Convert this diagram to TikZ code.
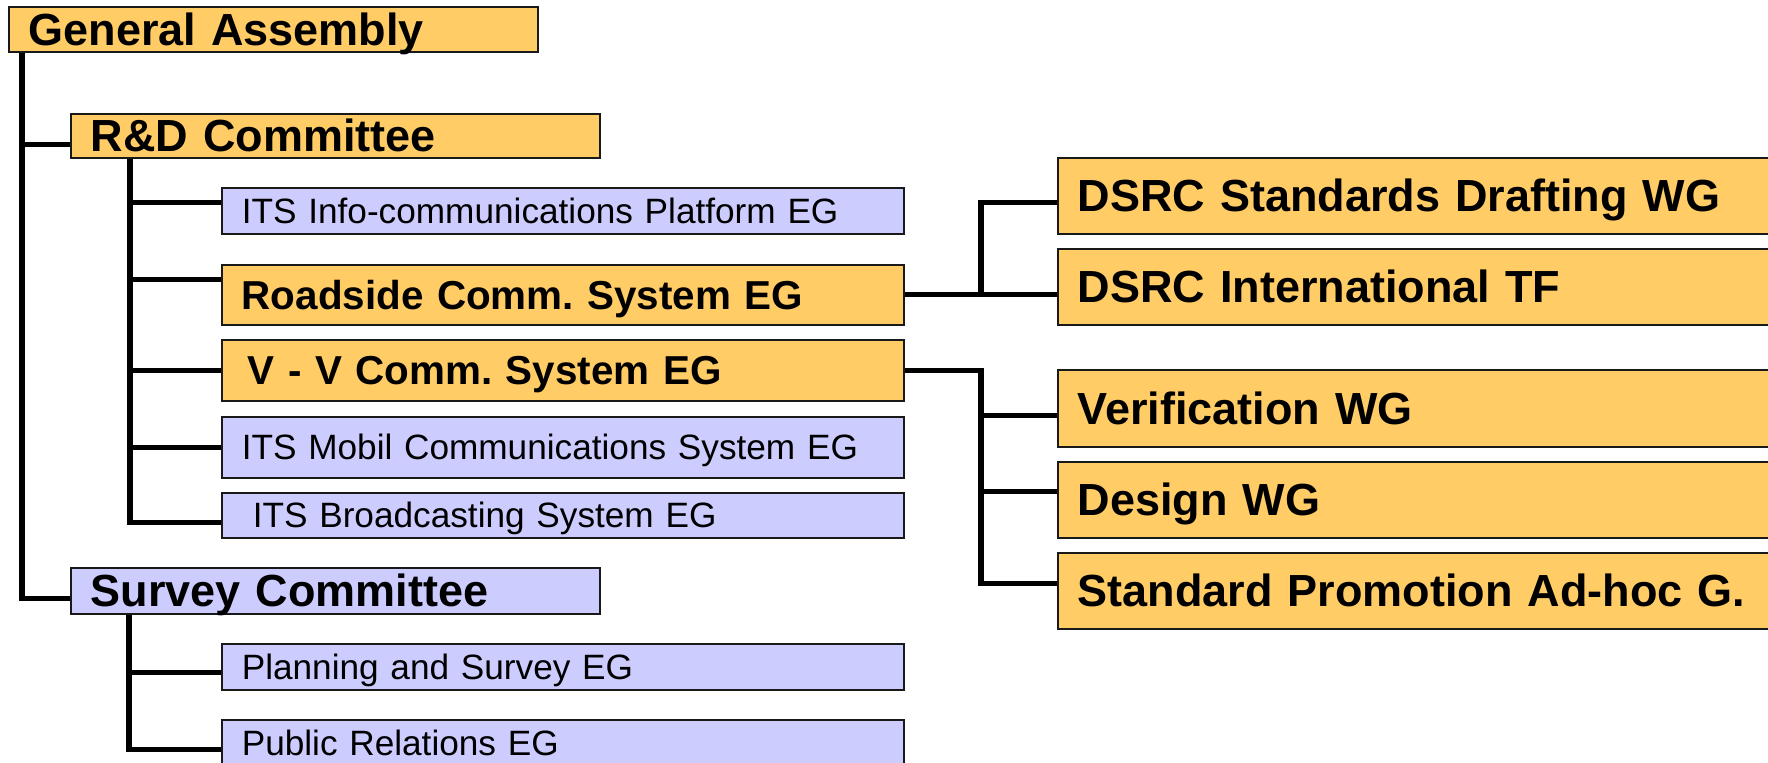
\documentclass[tikz,border=0pt]{standalone}
\usepackage{fontspec}
\setmainfont{Liberation Sans}
\usetikzlibrary{positioning, calc}
\definecolor{boxorange}{RGB}{255, 204, 102}
\definecolor{boxblue}{RGB}{204, 204, 255}
\frenchspacing
\tikzset{
  box/.style={draw=black!90, line width=0.8pt, anchor=north west, inner xsep=10pt, inner ysep=0pt, align=left, text depth=0pt},
  comm/.style={box, text width=244.7pt, font=\bfseries\fontsize{22.5}{26}\selectfont, text height=16pt},
  eg/.style={box, fill=boxblue, text width=321.2pt, font=\fontsize{17.6}{21}\selectfont, text height=12.6pt},
  egbold/.style={eg, fill=boxorange, font=\bfseries\fontsize{20.2}{24}\selectfont, text height=14.4pt},
  wg/.style={box, fill=boxorange, text width=345pt, minimum height=38pt, font=\bfseries\fontsize{22.5}{26}\selectfont, text height=16pt},
  link/.style={line width=2.7pt}
}
\begin{document}
\begin{tikzpicture}[x=0.5pt, y=-0.5pt]
  \useasboundingbox (0,0) rectangle (1768,763);

  % Assembly and committees
  \node[comm, fill=boxorange, minimum height=22.5pt] (GA) at (8,6) {General Assembly};
  \node[comm, fill=boxorange, minimum height=22pt] (RD) at (70,113) {R\&D Committee};
  \node[comm, fill=boxblue, minimum height=23pt] (SC) at (70,567) {Survey Committee};

  % R&D expert groups
  \node[eg, minimum height=23pt] (II) at (221,187) {ITS Info-communications Platform EG};
  \node[egbold, minimum height=30pt] (RC) at (221,264) {Roadside Comm. System EG};
  \node[egbold, minimum height=30.5pt] (VV) at (221,339) {\hspace{3pt}V - V Comm. System EG};
  \node[eg, minimum height=30.5pt] (MB) at (221,416) {ITS Mobil Communications System EG};
  \node[eg, minimum height=22.5pt] (BC) at (221,492) {\hspace{5.5pt}ITS Broadcasting System EG};

  % Survey expert groups
  \node[eg, minimum height=23pt] (PS) at (221,643) {Planning and Survey EG};
  \node[eg, minimum height=23pt] (PR) at (221,719) {Public Relations EG};

  % Working groups
  \node[wg] (DS) at (1057,157) {DSRC Standards Drafting WG};
  \node[wg] (DI) at (1057,248) {DSRC International TF};
  \node[wg, minimum height=38.5pt] (VW) at (1057,369) {Verification WG};
  \node[wg] (DW) at (1057,461) {Design WG};
  \node[wg] (SP) at (1057,552) {Standard Promotion Ad-hoc G.};

  % Trunk
  \draw[link] ([xshift=7pt]GA.south west) |- ([yshift=-4.25pt]RD.west);
  \draw[link] ([xshift=7pt]GA.south west) |- ([yshift=-4pt]SC.west);

  % R&D branches
  \draw[link] ([xshift=30pt]RD.south west) |- ([yshift=4pt]II.west);
  \draw[link] ([xshift=30pt]RD.south west) |- ([yshift=7.5pt]RC.west);
  \draw[link] ([xshift=30pt]RD.south west) |- (VV.west);
  \draw[link] ([xshift=30pt]RD.south west) |- (MB.west);
  \draw[link] ([xshift=30pt]RD.south west) |- ([yshift=-3.75pt]BC.west);

  % Survey branches
  \draw[link] ([xshift=29.5pt]SC.south west) |- ([yshift=-3pt]PS.west);
  \draw[link] ([xshift=29.5pt]SC.south west) |- ([yshift=-3.5pt]PR.west);

  % Roadside groups
  \coordinate (rj) at ($(RC.east)!0.5!(RC.east -| DI.west)$);
  \draw[link] (RC.east) -- (RC.east -| DI.west);
  \draw[link] (rj) |- ([yshift=-3.5pt]DS.west);

  % V-V groups
  \coordinate (vj) at ($(VV.east)!0.5!(VV.east -| VW.west)$);
  \draw[link] (VV.east) -- (vj) |- ([yshift=3.5pt]SP.west);
  \draw[link] (vj) |- ([yshift=-3.75pt]VW.west);
  \draw[link] (vj) |- ([yshift=4pt]DW.west);
\end{tikzpicture}
\end{document}
